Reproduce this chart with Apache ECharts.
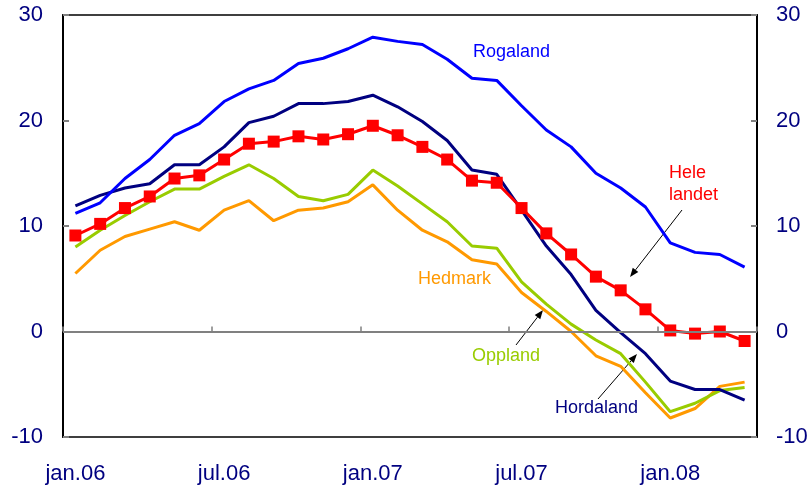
<!DOCTYPE html>
<html>
<head>
<meta charset="utf-8">
<script src="https://cdn.jsdelivr.net/npm/echarts@6/dist/echarts.min.js"></script>
<style>
html,body{margin:0;padding:0;background:#fff;}
#chart{width:811px;height:490px;}
</style>
</head>
<body>
<div id="chart"></div>
<script>
const categories = ["jan.06","feb.06","mar.06","apr.06","mai.06","jun.06","jul.06","aug.06","sep.06","okt.06","nov.06","des.06",
  "jan.07","feb.07","mar.07","apr.07","mai.07","jun.07","jul.07","aug.07","sep.07","okt.07","nov.07","des.07",
  "jan.08","feb.08","mar.08","apr.08"];
const heleLandet = [9.1,10.2,11.7,12.8,14.5,14.8,16.3,17.8,18.0,18.5,18.2,18.7,19.5,18.6,17.5,16.3,14.3,14.1,11.7,9.3,7.3,5.2,3.9,2.1,0.1,-0.2,0.0,-0.9];
const rogaland = [11.2,12.2,14.5,16.3,18.6,19.7,21.8,23.0,23.8,25.4,25.9,26.8,27.9,27.5,27.2,25.8,24.0,23.8,21.4,19.1,17.5,15.0,13.6,11.8,8.4,7.5,7.3,6.1];
const hordaland = [11.9,12.9,13.6,14.0,15.8,15.8,17.5,19.8,20.4,21.6,21.6,21.8,22.4,21.3,19.9,18.1,15.3,14.9,11.5,8.1,5.4,2.0,-0.1,-2.1,-4.7,-5.5,-5.5,-6.5];
const oppland = [8.0,9.6,11.0,12.3,13.5,13.5,14.7,15.8,14.5,12.8,12.4,13.0,15.3,13.8,12.1,10.4,8.1,7.9,4.7,2.6,0.7,-0.8,-2.1,-4.8,-7.6,-6.8,-5.6,-5.3];
const hedmark = [5.5,7.7,9.0,9.7,10.4,9.6,11.5,12.4,10.5,11.5,11.7,12.3,13.9,11.5,9.6,8.5,6.8,6.4,3.7,1.9,0.0,-2.3,-3.3,-5.8,-8.2,-7.3,-5.2,-4.8];
const yTicks = {min:-10, max:30, interval:10};

const FONT = "Liberation Sans, Arial, sans-serif";
const NAVY = "#000080";

const chart = echarts.init(document.getElementById('chart'), null, {renderer:'canvas'});

function yAxisDef(pos, margin){
  return {
    type:'value', position:pos, min:yTicks.min, max:yTicks.max, interval:yTicks.interval,
    axisLine:{show:true, lineStyle:{color:'#000', width:2}},
    axisTick:{show:true, inside:true, length:6, lineStyle:{color:'#808080', width:2}},
    axisLabel:{color:NAVY, fontSize:22, fontFamily:FONT, margin:margin},
    splitLine:{show:false}
  };
}
function lineSeries(name, data, color, extra){
  return Object.assign({
    name:name, type:'line', data:data, showSymbol:false, symbol:'none',
    lineStyle:{color:color, width:3}, itemStyle:{color:color},
    silent:true, animation:false
  }, extra||{});
}
function arrow(x1,y1,x2,y2){
  const dx=x2-x1, dy=y2-y1, L=Math.hypot(dx,dy), ux=dx/L, uy=dy/L;
  const bx=x2-9*ux, by=y2-9*uy, px=-uy*3.5, py=ux*3.5;
  return [
    {type:'line', shape:{x1:x1,y1:y1,x2:bx,y2:by}, style:{stroke:'#000', lineWidth:1}},
    {type:'polygon', shape:{points:[[x2,y2],[bx+px,by+py],[bx-px,by-py]]}, style:{fill:'#000'}}
  ];
}
function label(text, x, y, color){
  return {type:'text', x:x, y:y, style:{text:text, fill:color, font:'18px '+FONT, textAlign:'left', textVerticalAlign:'middle'}};
}

chart.setOption({
  animation:false,
  backgroundColor:'#fff',
  grid:{left:63, right:54, top:15, bottom:53, show:true, borderColor:'#000', borderWidth:1.5, backgroundColor:'transparent'},
  xAxis:{
    type:'category', data:categories, boundaryGap:true,
    axisLine:{show:true, lineStyle:{color:'#000', width:2}},
    axisTick:{show:true, inside:true, length:5, interval:5, lineStyle:{color:'#808080', width:1.5}},
    axisLabel:{interval:5, color:NAVY, fontSize:22, fontFamily:FONT, margin:26},
    splitLine:{show:false}
  },
  yAxis:[yAxisDef('left',20), yAxisDef('right',19)],
  series:[
    lineSeries('Hedmark', hedmark, '#FF9900', {
      markLine:{silent:true, symbol:['none','none'], label:{show:false},
        lineStyle:{color:'#808080', width:2, type:'solid'}, data:[{yAxis:0}], animation:false}
    }),
    lineSeries('Oppland', oppland, '#99CC00'),
    lineSeries('Hordaland', hordaland, NAVY),
    lineSeries('Rogaland', rogaland, '#0000FF'),
    lineSeries('Hele landet', heleLandet, '#FF0000', {
      showSymbol:true, symbol:'rect', symbolSize:12
    })
  ],
  graphic:[
    label('Rogaland', 473, 52, '#0000FF'),
    label('Hele', 669, 173, '#FF0000'),
    label('landet', 669, 195, '#FF0000'),
    label('Hedmark', 418, 279, '#FF9900'),
    label('Oppland', 472, 356, '#99CC00'),
    label('Hordaland', 555, 408, NAVY),
    ...arrow(682,210,630,277),
    ...arrow(516,345,543,310),
    ...arrow(598,399,637,354)
  ]
});
</script>
</body>
</html>
